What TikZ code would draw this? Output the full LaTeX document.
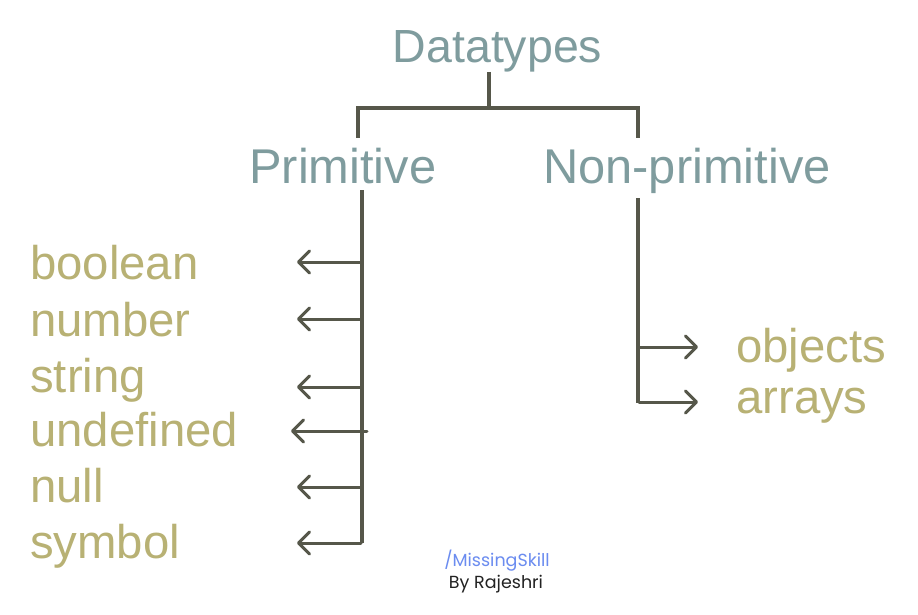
\documentclass[tikz,border=0pt]{standalone}
\usepackage{fontspec}
\setmainfont{Liberation Sans}
\newfontfamily\wmfont{Poppins}
\usetikzlibrary{arrows.meta}
\definecolor{headc}{HTML}{7F9C9E}
\definecolor{itemc}{HTML}{B8B174}
\definecolor{linec}{HTML}{56574A}
\definecolor{wmblue}{HTML}{6B8CF0}
\definecolor{wmdark}{HTML}{222222}
\tikzset{
  head/.style={text=headc, inner sep=0pt, font=\fontsize{48.8}{56}\selectfont},
  item/.style={text=itemc, inner sep=0pt, anchor=base west, font=\fontsize{47.3}{56}\selectfont},
  trunk/.style={draw=linec, line width=4.5pt},
  branch/.style={draw=linec, line width=3pt, line cap=round,
    -{Straight Barb[length=11pt,width=22pt,line width=3pt,round]}},
  wm/.style={anchor=base, inner sep=0pt, font=\wmfont\fontsize{17.5}{20}\selectfont},
}
\begin{document}
\begin{tikzpicture}[x=1pt,y=-1pt]
\useasboundingbox[fill=white] (0,0) rectangle (918,615);
% headings
\node[head, anchor=base, font=\fontsize{46.5}{56}\selectfont] (dt) at (497.5,63) {Datatypes};
\node[head, anchor=base west] (prim) at (249,183) {Primitive};
\node[head, anchor=base west] (nonprim) at (543,183) {Non-primitive};
% tree junctions
\coordinate (stemtop) at (489,72);
\coordinate (stembot) at (489,108);
\coordinate (jl) at (358,108);
\coordinate (jr) at (638,108);
\coordinate (jlb) at (358,138);
\coordinate (jrb) at (638,138);
\draw[trunk] (stemtop) -- (stembot);
\draw[trunk] (jlb) -- (jl) -- (jr) -- (jrb);
% primitive trunk
\coordinate (pt) at (362,190);
\coordinate (pb) at (362,543);
\draw[trunk] (pt) -- (pb);
% non-primitive trunk
\coordinate (nt) at (638,198);
\coordinate (nb) at (638,403);
\draw[trunk] (nt) -- (nb);
% left items
\node[item] (boolean) at (30,279) {boolean};
\node[item] (number) at (30,336) {number};
\node[item] (string) at (30,392) {string};
\node[item] (undefined) at (30,446) {undefined};
\node[item] (null) at (30,502) {null};
\node[item] (symbol) at (30,558) {symbol};
% left arrows
\coordinate (s1) at (361,262); \coordinate (t1) at (297,262);
\coordinate (s2) at (361,319); \coordinate (t2) at (297,319);
\coordinate (s3) at (361,387); \coordinate (t3) at (297,387);
\coordinate (s4) at (367,431); \coordinate (t4) at (291,431);
\coordinate (s5) at (361,487); \coordinate (t5) at (297,487);
\coordinate (s6) at (361,543); \coordinate (t6) at (297,543);
\foreach \i in {1,...,6} {\draw[branch] (s\i) -- (t\i);}
% right items
\node[item] (objects) at (736,362) {objects};
\node[item] (arrays) at (736,413) {arrays};
\coordinate (r1s) at (639,347); \coordinate (r1t) at (698,347);
\coordinate (r2s) at (639,402); \coordinate (r2t) at (698,402);
\draw[branch] (r1s) -- (r1t);
\draw[branch] (r2s) -- (r2t);
% watermark
\node[wm, text=wmblue] (wm1) at (497,566) {/MissingSkill};
\node[wm, text=wmdark] (wm2) at (496,588) {By Rajeshri};
\end{tikzpicture}
\end{document}
